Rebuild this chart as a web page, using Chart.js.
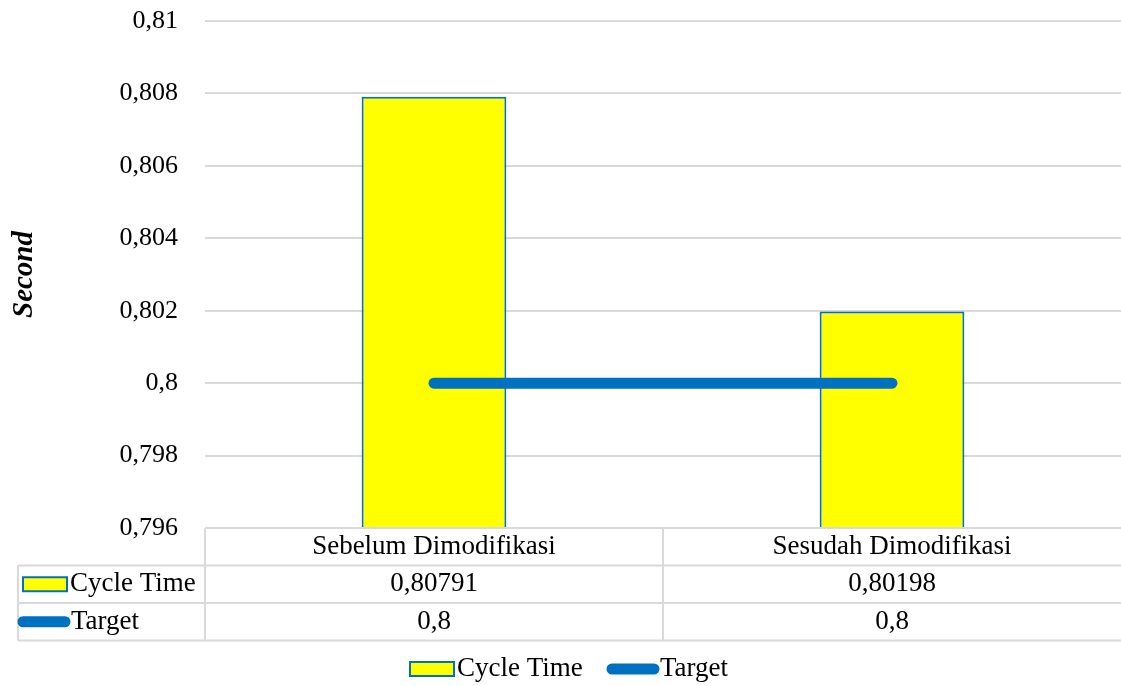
<!DOCTYPE html>
<html lang="id">
<head>
  <meta charset="UTF-8">
  <title>Cycle Time</title>
  <style>
    body { margin: 0; background: #fff; }
  </style>
</head>
<body>

  <canvas id="myChart" width="1121" height="686"></canvas>

  <script src="https://cdn.jsdelivr.net/npm/chart.js"></script>
  <script>
const categories = ['Sebelum Dimodifikasi', 'Sesudah Dimodifikasi'];
const cycleTime = [0.80791, 0.80198];
const target = [0.8, 0.8];
const cycleTimeText = ['0,80791', '0,80198'];
const targetText = ['0,8', '0,8'];

const FONT = "'Liberation Serif', 'Times New Roman', serif";
const GRID = '#d9d9d9';
const YELLOW = '#ffff00';
const BLUE = '#0070c0';

function fmt(v) {
    return String(Number(v.toFixed(4))).replace('.', ',');
}

// simbol legenda (kotak kuning / garis biru)
function drawBox(ctx, x, y) {
    ctx.fillStyle = YELLOW;
    ctx.fillRect(x, y, 44, 14);
    ctx.strokeStyle = BLUE;
    ctx.lineWidth = 2;
    ctx.strokeRect(x, y, 44, 14);
}
function drawLine(ctx, x, y) {
    ctx.strokeStyle = BLUE;
    ctx.lineWidth = 11;
    ctx.lineCap = 'round';
    ctx.beginPath();
    ctx.moveTo(x + 5, y);
    ctx.lineTo(x + 47, y);
    ctx.stroke();
}

const dataTablePlugin = {
    id: 'dataTablePlugin',
    afterDraw: (chart) => {
        const ctx = chart.ctx;
        const xScale = chart.scales.x;
        const area = chart.chartArea;
        const colW = (area.right - area.left) / categories.length;
        const rowH = 37.5;
        const top = area.bottom;
        const tableLeft = 18;

        ctx.save();
        ctx.strokeStyle = GRID;
        ctx.lineWidth = 2;
        // garis horizontal
        ctx.beginPath();
        ctx.moveTo(area.left, top);
        ctx.lineTo(area.right, top);
        for (let r = 1; r <= 3; r++) {
            ctx.moveTo(tableLeft, top + r * rowH);
            ctx.lineTo(area.right, top + r * rowH);
        }
        // garis vertikal
        ctx.moveTo(tableLeft, top + rowH);
        ctx.lineTo(tableLeft, top + 3 * rowH);
        for (let c = 0; c < categories.length; c++) {
            const x = area.left + c * colW;
            ctx.moveTo(x, top);
            ctx.lineTo(x, top + 3 * rowH);
        }
        ctx.stroke();

        ctx.fillStyle = '#000';
        ctx.font = '27px ' + FONT;
        ctx.textAlign = 'center';
        ctx.textBaseline = 'middle';
        categories.forEach((cat, i) => {
            const x = xScale.getPixelForValue(i);
            ctx.fillText(cat, x, top + rowH * 0.5);
            ctx.fillText(cycleTimeText[i], x, top + rowH * 1.5);
            ctx.fillText(targetText[i], x, top + rowH * 2.5);
        });

        // label baris
        drawBox(ctx, 23, top + rowH * 1.5 - 7);
        drawLine(ctx, 18, top + rowH * 2.5);
        ctx.fillStyle = '#000';
        ctx.textAlign = 'left';
        ctx.fillText('Cycle Time', 70, top + rowH * 1.5);
        ctx.fillText('Target', 71, top + rowH * 2.5);

        // legenda bawah
        const ly = 669;
        drawBox(ctx, 410, ly - 7);
        ctx.fillStyle = '#000';
        ctx.fillText('Cycle Time', 457, ly);
        drawLine(ctx, 607, ly);
        ctx.fillStyle = '#000';
        ctx.fillText('Target', 660, ly);
        ctx.restore();
    }
};

const ctx = document.getElementById('myChart').getContext('2d');
const myChart = new Chart(ctx, {
    data: {
        labels: categories,
        datasets: [
            {
                type: 'line',
                label: 'Target',
                data: target,
                borderColor: BLUE,
                backgroundColor: BLUE,
                borderWidth: 11,
                borderCapStyle: 'round',
                pointRadius: 0,
                fill: false,
                order: 0
            },
            {
                type: 'bar',
                label: 'Cycle Time',
                data: cycleTime,
                backgroundColor: YELLOW,
                borderColor: BLUE,
                borderWidth: 2,
                categoryPercentage: 1,
                barPercentage: 0.316,
                order: 1
            }
        ]
    },
    options: {
        responsive: false,
        animation: false,
        layout: {
            padding: { top: 21, bottom: 158, left: 0, right: 0 }
        },
        scales: {
            x: {
                display: false
            },
            y: {
                min: 0.796,
                max: 0.81,
                afterFit: (scale) => {
                    scale.width = 205;
                    scale.paddingTop = 15;
                    scale.paddingBottom = 15;
                },
                grid: {
                    color: GRID,
                    lineWidth: 2,
                    drawTicks: false
                },
                border: { display: false },
                ticks: {
                    stepSize: 0.002,
                    padding: 27,
                    color: '#000',
                    font: { family: FONT, size: 26 },
                    callback: (value) => fmt(value)
                },
                title: {
                    display: true,
                    text: 'Second',
                    color: '#000',
                    font: { family: FONT, size: 29, weight: 'bold', style: 'italic' },
                    padding: { top: 7, bottom: 0 }
                }
            }
        },
        plugins: {
            legend: { display: false },
            tooltip: { enabled: false }
        }
    },
    plugins: [dataTablePlugin]
});
  </script>

</body>
</html>
